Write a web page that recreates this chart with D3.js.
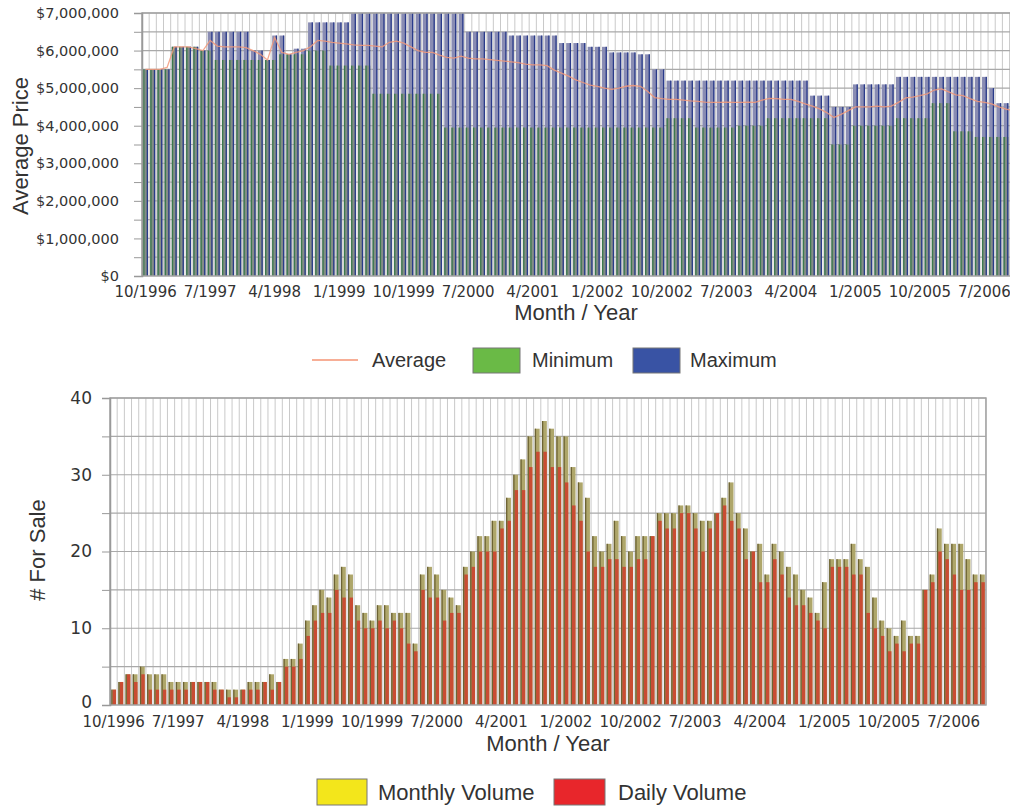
<!DOCTYPE html>
<html>
<head>
<meta charset="utf-8">
<script src="https://cdnjs.cloudflare.com/ajax/libs/d3/7.8.5/d3.min.js"></script>
<style>
  body { margin: 0; background: #fff; }
  svg { display: block; }
</style>
</head>
<body>
<div id="chart"></div>
<script>
// months run from 10/1996, one entry per month
const startYear = 1996, startMonth = 10;
const tickLabels = ["10/1996", "7/1997", "4/1998", "1/1999", "10/1999", "7/2000", "4/2001",
    "1/2002", "10/2002", "7/2003", "4/2004", "1/2005", "10/2005", "7/2006"];

// price values in millions of dollars
const maxPrice = [
    5.5, 5.5, 5.5, 5.5, 6.1, 6.1, 6.1, 6.1, 6.0, 6.5,
    6.5, 6.5, 6.5, 6.5, 6.5, 6.0, 6.0, 5.75, 6.4, 6.4,
    5.9, 6.05, 6.05, 6.75, 6.75, 6.75, 6.75, 6.75, 6.75, 7.0,
    7.0, 7.0, 7.0, 7.0, 7.0, 7.0, 7.0, 7.0, 7.0, 7.0,
    7.0, 7.0, 7.0, 7.0, 7.0, 6.5, 6.5, 6.5, 6.5, 6.5,
    6.5, 6.4, 6.4, 6.4, 6.4, 6.4, 6.4, 6.4, 6.2, 6.2,
    6.2, 6.2, 6.1, 6.1, 6.1, 5.95, 5.95, 5.95, 5.95, 5.9,
    5.9, 5.5, 5.5, 5.2, 5.2, 5.2, 5.2, 5.2, 5.2, 5.2,
    5.2, 5.2, 5.2, 5.2, 5.2, 5.2, 5.2, 5.2, 5.2, 5.2,
    5.2, 5.2, 5.2, 4.8, 4.8, 4.8, 4.5, 4.5, 4.5, 5.1,
    5.1, 5.1, 5.1, 5.1, 5.1, 5.3, 5.3, 5.3, 5.3, 5.3,
    5.3, 5.3, 5.3, 5.3, 5.3, 5.3, 5.3, 5.3, 5.0, 4.6,
    4.6, 4.6
];
const minPrice = [
    5.5, 5.5, 5.5, 5.5, 6.1, 6.1, 6.1, 6.1, 6.0, 6.0,
    5.75, 5.75, 5.75, 5.75, 5.75, 5.75, 5.75, 5.75, 5.75, 5.9,
    5.9, 5.9, 5.9, 6.0, 6.0, 6.0, 5.6, 5.6, 5.6, 5.6,
    5.6, 5.6, 4.85, 4.85, 4.85, 4.85, 4.85, 4.85, 4.85, 4.85,
    4.85, 4.85, 3.95, 3.95, 3.95, 3.95, 3.95, 3.95, 3.95, 3.95,
    3.95, 3.95, 3.95, 3.95, 3.95, 3.95, 3.95, 3.95, 3.95, 3.95,
    3.95, 3.95, 3.95, 3.95, 3.95, 3.95, 3.95, 3.95, 3.95, 3.95,
    3.95, 3.95, 3.95, 4.2, 4.2, 4.2, 4.2, 3.95, 3.95, 3.95,
    3.95, 3.95, 3.95, 4.0, 4.0, 4.0, 4.0, 4.2, 4.2, 4.2,
    4.2, 4.2, 4.2, 4.2, 4.2, 4.2, 3.5, 3.5, 3.5, 4.0,
    4.0, 4.0, 4.0, 4.0, 4.0, 4.2, 4.2, 4.2, 4.2, 4.2,
    4.6, 4.6, 4.6, 3.85, 3.85, 3.85, 3.7, 3.7, 3.7, 3.7,
    3.7, 3.7
];
const avgPrice = [
    5.5, 5.5, 5.5, 5.55, 6.1, 6.1, 6.1, 6.05, 6.0, 6.27,
    6.12, 6.1, 6.1, 6.1, 6.08, 6.0, 5.9, 5.75, 6.35, 5.95,
    5.9, 5.95, 6.0, 6.1, 6.27, 6.25, 6.22, 6.2, 6.18, 6.15,
    6.14, 6.14, 6.12, 6.1, 6.22, 6.25, 6.2, 6.1, 6.0, 5.95,
    5.95, 5.88, 5.82, 5.8, 5.85, 5.8, 5.78, 5.78, 5.76, 5.74,
    5.72, 5.7, 5.68, 5.64, 5.62, 5.62, 5.6, 5.48, 5.4, 5.32,
    5.22, 5.15, 5.08, 5.05, 5.0, 4.97, 5.0, 5.05, 5.07, 5.05,
    4.92, 4.75, 4.72, 4.7, 4.7, 4.68, 4.66, 4.65, 4.63, 4.62,
    4.62, 4.63, 4.62, 4.62, 4.63, 4.62, 4.68, 4.73, 4.72, 4.7,
    4.7, 4.65, 4.58, 4.52, 4.45, 4.35, 4.22, 4.3, 4.4, 4.5,
    4.5, 4.5, 4.52, 4.5, 4.52, 4.62, 4.74, 4.76, 4.8, 4.85,
    4.95, 4.98, 4.9, 4.82, 4.8, 4.72, 4.65, 4.62, 4.58, 4.5,
    4.44, 4.4
];

// number of listings for sale
const monthlyVolume = [
    2, 3, 4, 4, 5, 4, 4, 4, 3, 3,
    3, 3, 3, 3, 3, 2, 2, 2, 2, 3,
    3, 3, 4, 3, 6, 6, 8, 11, 13, 15,
    14, 17, 18, 17, 13, 12, 11, 13, 13, 12,
    12, 12, 8, 17, 18, 17, 15, 14, 13, 18,
    20, 22, 22, 24, 24, 27, 30, 32, 35, 36,
    37, 36, 35, 35, 31, 29, 27, 22, 20, 21,
    24, 22, 20, 22, 22, 22, 25, 25, 25, 26,
    26, 25, 24, 24, 25, 27, 29, 25, 23, 20,
    21, 17, 21, 20, 18, 17, 15, 14, 12, 16,
    19, 19, 19, 21, 19, 18, 14, 11, 10, 9,
    11, 9, 9, 15, 17, 23, 21, 21, 21, 19,
    17, 17
];
const dailyVolume = [
    2, 3, 4, 3, 4, 2, 2, 2, 2, 2,
    2, 3, 3, 3, 2, 2, 1, 1, 2, 2,
    2, 3, 2, 3, 5, 5, 6, 9, 11, 12,
    12, 15, 14, 14, 11, 10, 10, 11, 10, 11,
    10, 8, 7, 15, 14, 14, 11, 12, 12, 17,
    18, 20, 20, 20, 23, 24, 28, 28, 31, 33,
    33, 31, 31, 29, 26, 24, 20, 18, 18, 19,
    19, 18, 18, 19, 19, 22, 24, 23, 23, 25,
    25, 23, 20, 23, 25, 26, 24, 23, 19, 20,
    16, 16, 19, 17, 14, 13, 13, 12, 11, 10,
    18, 18, 18, 17, 17, 12, 10, 9, 7, 8,
    7, 8, 8, 15, 16, 20, 19, 17, 15, 15,
    16, 16
];

const months = d3.range(maxPrice.length).map(i => {
    const k = startMonth - 1 + i;
    return (k % 12 + 1) + "/" + (startYear + Math.floor(k / 12));
});

const tickFont = "DejaVu Sans, Verdana, sans-serif";
const textFont = "Liberation Sans, Arial, Helvetica, sans-serif";

const svg = d3.select("#chart")
    .append("svg")
    .attr("width", 1010)
    .attr("height", 809);

function drawGrid(g, x, y, yTicks, left, right) {
    const half = x.step() * x.paddingOuter();
    g.selectAll(".vgrid")
        .data(x.domain())
        .enter().append("line")
        .attr("x1", d => x(d) + x.bandwidth() + half)
        .attr("x2", d => x(d) + x.bandwidth() + half)
        .attr("y1", y.range()[0])
        .attr("y2", y.range()[1])
        .style("stroke", "#c9c9c9")
        .style("stroke-width", 1);
    g.selectAll(".hgrid")
        .data(yTicks)
        .enter().append("line")
        .attr("x1", left)
        .attr("x2", right)
        .attr("y1", d => y(d))
        .attr("y2", d => y(d))
        .style("stroke", "#a9a9a9")
        .style("stroke-width", 1.2);
}

function styleAxis(g, size) {
    g.select(".domain").style("stroke", "#999").style("stroke-width", 1.5);
    g.selectAll(".tick line").style("stroke", "#999");
    g.selectAll("text")
        .style("font-family", tickFont)
        .style("font-size", size + "px")
        .style("fill", "#333");
}

// ---------- top chart: price ----------
const priceChart = svg.append("g");
const xTop = d3.scaleBand()
    .domain(months)
    .range([142, 142 + 7.17 * months.length])
    .paddingInner(0.32)
    .paddingOuter(0.16);
const yTop = d3.scaleLinear().domain([0, 7000000]).range([276, 13]);
const topRight = xTop.range()[1];

drawGrid(priceChart, xTop, yTop, d3.range(500000, 7000001, 500000), 142, topRight);

const bwT = xTop.bandwidth();
const swT = bwT * 0.27;
const topBars = priceChart.selectAll(".pbar")
    .data(months)
    .enter().append("g");
topBars.append("rect")
    .attr("x", d => xTop(d))
    .attr("y", (d, i) => yTop(maxPrice[i] * 1e6))
    .attr("width", bwT)
    .attr("height", (d, i) => yTop(0) - yTop(maxPrice[i] * 1e6))
    .style("fill", "#898cb3");
topBars.append("rect")
    .attr("x", d => xTop(d))
    .attr("y", (d, i) => yTop(minPrice[i] * 1e6))
    .attr("width", bwT)
    .attr("height", (d, i) => yTop(0) - yTop(minPrice[i] * 1e6))
    .style("fill", "#838d86");
topBars.append("rect")
    .attr("x", d => xTop(d))
    .attr("y", (d, i) => yTop(minPrice[i] * 1e6))
    .attr("width", swT)
    .attr("height", (d, i) => yTop(0) - yTop(minPrice[i] * 1e6))
    .style("fill", "#3b7a4c");
topBars.append("rect")
    .attr("x", d => xTop(d) + bwT - swT)
    .attr("y", (d, i) => yTop(maxPrice[i] * 1e6))
    .attr("width", swT)
    .attr("height", (d, i) => yTop(0) - yTop(maxPrice[i] * 1e6))
    .style("fill", "#2a3b8a");

const avgLine = d3.line()
    .x(d => xTop(d) + bwT / 2)
    .y((d, i) => yTop(avgPrice[i] * 1e6));
priceChart.append("path")
    .datum(months)
    .attr("d", avgLine)
    .style("fill", "none")
    .style("stroke", "#f2997a")
    .style("stroke-width", 1.3)
    .style("opacity", 0.85);

priceChart.append("rect")
    .attr("x", 142).attr("y", 13)
    .attr("width", topRight - 142).attr("height", 263)
    .style("fill", "none").style("stroke", "#a3a3a3").style("stroke-width", 1.5);

const yAxisTop = priceChart.append("g")
    .attr("transform", "translate(142,0)")
    .call(d3.axisLeft(yTop)
        .tickValues(d3.range(0, 7000001, 500000))
        .tickSize(8)
        .tickPadding(15)
        .tickFormat(d => d % 1000000 === 0 ? "$" + d3.format(",")(d) : ""));
styleAxis(yAxisTop, 14.5);

const xAxisTop = priceChart.append("g")
    .attr("transform", "translate(0,276)")
    .call(d3.axisBottom(xTop).tickValues(tickLabels).tickSize(0).tickPadding(10));
xAxisTop.select(".domain").remove();
styleAxis(xAxisTop, 15);

priceChart.append("text")
    .attr("x", 576).attr("y", 320)
    .attr("text-anchor", "middle")
    .style("font-family", textFont).style("font-size", "22px").style("fill", "#333")
    .text("Month / Year");
priceChart.append("text")
    .attr("transform", "translate(28,146) rotate(-90)")
    .attr("text-anchor", "middle")
    .style("font-family", textFont).style("font-size", "22px").style("fill", "#333")
    .text("Average Price");

// legend for top chart
const legTop = svg.append("g");
legTop.append("line")
    .attr("x1", 312).attr("x2", 358).attr("y1", 360).attr("y2", 360)
    .style("stroke", "#f7ae96").style("stroke-width", 2);
legTop.append("rect").attr("x", 473).attr("y", 348).attr("width", 47).attr("height", 25)
    .style("fill", "#6aba46").style("stroke", "#777").style("stroke-width", 1);
legTop.append("rect").attr("x", 633).attr("y", 348).attr("width", 47).attr("height", 25)
    .style("fill", "#3953a4").style("stroke", "#777").style("stroke-width", 1);
[["Average", 372], ["Minimum", 532], ["Maximum", 690]].forEach(([t, x]) => {
    legTop.append("text").attr("x", x).attr("y", 367)
        .style("font-family", textFont).style("font-size", "20px").style("fill", "#333")
        .text(t);
});

// ---------- bottom chart: volume ----------
const volumeChart = svg.append("g");
const xBot = d3.scaleBand()
    .domain(months)
    .range([110, 110 + 7.18 * months.length])
    .paddingInner(0.32)
    .paddingOuter(0.16);
const yBot = d3.scaleLinear().domain([0, 40]).range([705, 398]);
const botRight = xBot.range()[1];

drawGrid(volumeChart, xBot, yBot, d3.range(5, 41, 5), 110, botRight);

const bwB = xBot.bandwidth();
const swB = bwB * 0.27;
const botBars = volumeChart.selectAll(".vbar")
    .data(months)
    .enter().append("g");
botBars.append("rect")
    .attr("x", d => xBot(d))
    .attr("y", (d, i) => yBot(monthlyVolume[i]))
    .attr("width", bwB)
    .attr("height", (d, i) => yBot(0) - yBot(monthlyVolume[i]))
    .style("fill", "#aea66a");
botBars.append("rect")
    .attr("x", d => xBot(d) + swB)
    .attr("y", (d, i) => yBot(dailyVolume[i]))
    .attr("width", bwB - swB)
    .attr("height", (d, i) => yBot(0) - yBot(dailyVolume[i]))
    .style("fill", "#c94c33");
botBars.append("rect")
    .attr("x", d => xBot(d))
    .attr("y", (d, i) => yBot(monthlyVolume[i]))
    .attr("width", swB)
    .attr("height", (d, i) => yBot(0) - yBot(monthlyVolume[i]))
    .style("fill", "#6c6334");

volumeChart.append("rect")
    .attr("x", 110).attr("y", 398)
    .attr("width", botRight - 110).attr("height", 307)
    .style("fill", "none").style("stroke", "#a3a3a3").style("stroke-width", 1.5);

const yAxisBot = volumeChart.append("g")
    .attr("transform", "translate(110,0)")
    .call(d3.axisLeft(yBot)
        .tickValues(d3.range(0, 41, 5))
        .tickSize(8)
        .tickPadding(10)
        .tickFormat(d => d % 10 === 0 ? d : ""));
styleAxis(yAxisBot, 17);
// lift the "0" a little so it sits clear of the first month label
yAxisBot.selectAll(".tick text").filter(d => d === 0).attr("dy", "0.14em");

const xAxisBot = volumeChart.append("g")
    .attr("transform", "translate(0,705)")
    .call(d3.axisBottom(xBot).tickValues(tickLabels).tickSize(0).tickPadding(11));
xAxisBot.select(".domain").remove();
styleAxis(xAxisBot, 15);

volumeChart.append("text")
    .attr("x", 548).attr("y", 751)
    .attr("text-anchor", "middle")
    .style("font-family", textFont).style("font-size", "22px").style("fill", "#333")
    .text("Month / Year");
volumeChart.append("text")
    .attr("transform", "translate(45,550) rotate(-90)")
    .attr("text-anchor", "middle")
    .style("font-family", textFont).style("font-size", "22px").style("fill", "#333")
    .text("# For Sale");

// legend for bottom chart
const legBot = svg.append("g");
legBot.append("rect").attr("x", 317).attr("y", 779).attr("width", 50).attr("height", 26)
    .style("fill", "#f3e61b").style("stroke", "#777").style("stroke-width", 1);
legBot.append("rect").attr("x", 554).attr("y", 779).attr("width", 51).attr("height", 26)
    .style("fill", "#e8262b").style("stroke", "#777").style("stroke-width", 1);
[["Monthly Volume", 378], ["Daily Volume", 618]].forEach(([t, x]) => {
    legBot.append("text").attr("x", x).attr("y", 800)
        .style("font-family", textFont).style("font-size", "22px").style("fill", "#333")
        .text(t);
});
</script>
</body>
</html>
